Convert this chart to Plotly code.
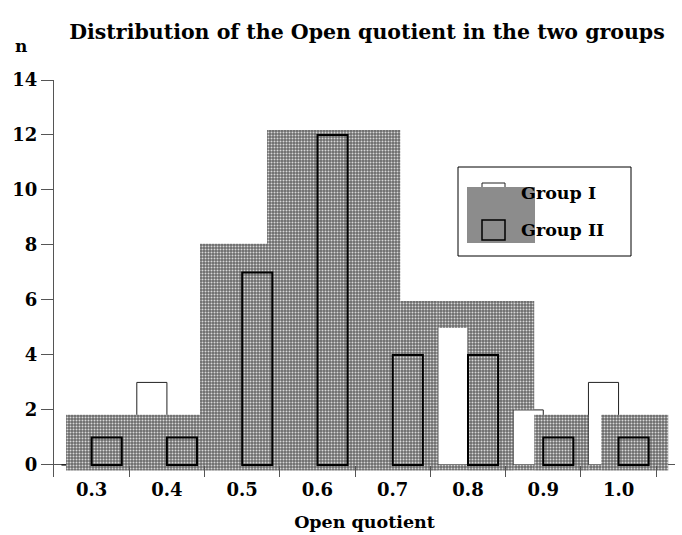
import plotly.graph_objects as go

# ---- data ----
categories = [0.3, 0.4, 0.5, 0.6, 0.7, 0.8, 0.9, 1.0]
tick_labels = ["0.3", "0.4", "0.5", "0.6", "0.7", "0.8", "0.9", "1.0"]
group1 = [0, 3, 6, 8, 6, 5, 2, 3]
group2 = [1, 1, 7, 12, 4, 4, 1, 1]
bin_edges = [0.35, 0.45, 0.55, 0.65, 0.75, 0.85, 0.95, 1.05]

# stippled grey backdrop (left edge, right edge, bottom, top)
shade_left = [0.266, 0.444, 0.533, 0.710, 0.760, 0.760, 0.800, 0.860, 0.860, 0.888, 0.960, 0.977]
shade_right = [0.444, 0.533, 0.710, 0.760, 0.800, 0.800, 0.860, 0.888, 0.888, 0.960, 0.977, 1.066]
shade_bottom = [-0.2, -0.2, -0.2, -0.2, -0.2, 4.98, -0.2, -0.2, 2.0, -0.2, -0.2, -0.2]
shade_top = [1.82, 8.04, 12.18, 5.96, 0.0, 5.96, 5.96, 0.0, 5.96, 1.82, 0.0, 1.82]

FONT = "DejaVu Serif"

fig = go.Figure()

# Group I (white bars, left half of each bin)
fig.add_trace(go.Bar(
    x=categories, y=group1, width=0.04, offset=-0.04,
    marker=dict(color="white", line=dict(color="#222", width=1)),
    name="Group I", showlegend=False,
))

# grey stippled backdrop
fig.add_trace(go.Bar(
    x=shade_left,
    y=[t - b for t, b in zip(shade_top, shade_bottom)],
    base=shade_bottom,
    width=[r - l for l, r in zip(shade_left, shade_right)],
    offset=0,
    marker=dict(
        color="#808080",
        line=dict(width=0),
        pattern=dict(shape=".", fgcolor="#d8d8d8", bgcolor="#6a6a6a",
                     size=3, solidity=0.35, fillmode="replace"),
    ),
    showlegend=False, hoverinfo="skip",
))

# Group II (outlined bars, right half of each bin)
fig.add_trace(go.Bar(
    x=categories, y=group2, width=0.04, offset=0.0,
    marker=dict(color="rgba(0,0,0,0)", line=dict(color="black", width=2)),
    name="Group II", showlegend=False,
))

# ---- custom legend ----
def px2paper_x(px):
    return (px - 54) / 621.0

def px2paper_y(py):
    return (477 - py) / 397.0

shapes = [
    dict(type="rect", xref="paper", yref="paper",
         x0=px2paper_x(458), x1=px2paper_x(631), y0=px2paper_y(256), y1=px2paper_y(167),
         line=dict(color="black", width=1), fillcolor="white", layer="above"),
    dict(type="rect", xref="paper", yref="paper",
         x0=px2paper_x(482), x1=px2paper_x(505), y0=px2paper_y(192), y1=px2paper_y(183),
         line=dict(color="#222", width=1), fillcolor="white", layer="above"),
    dict(type="rect", xref="paper", yref="paper",
         x0=px2paper_x(467), x1=px2paper_x(535), y0=px2paper_y(243), y1=px2paper_y(187),
         line=dict(width=0), fillcolor="#8c8c8c", layer="above"),
    dict(type="rect", xref="paper", yref="paper",
         x0=px2paper_x(482), x1=px2paper_x(505), y0=px2paper_y(240), y1=px2paper_y(220),
         line=dict(color="black", width=1.5), fillcolor="rgba(0,0,0,0)", layer="above"),
]

annotations = [
    dict(text="<b>Group I</b>", xref="paper", yref="paper", x=px2paper_x(519), y=px2paper_y(193),
         xanchor="left", yanchor="middle", showarrow=False,
         font=dict(family=FONT, size=17.5, color="black")),
    dict(text="<b>Group II</b>", xref="paper", yref="paper", x=px2paper_x(519), y=px2paper_y(230),
         xanchor="left", yanchor="middle", showarrow=False,
         font=dict(family=FONT, size=17.5, color="black")),
    dict(text="<b>n</b>", xref="paper", yref="paper", x=px2paper_x(21), y=px2paper_y(46),
         xanchor="center", yanchor="middle", showarrow=False,
         font=dict(family=FONT, size=17, color="black")),
]

fig.update_layout(
    width=682, height=535,
    margin=dict(l=54, r=7, t=80, b=58),
    plot_bgcolor="white", paper_bgcolor="white",
    barmode="overlay",
    title=dict(text="<b>Distribution of the Open quotient in the two groups</b>",
               x=367 / 682, xanchor="center", xref="container",
               y=1 - 32 / 535, yanchor="middle", yref="container",
               font=dict(family=FONT, size=20.5, color="black")),
    font=dict(family=FONT, size=16, color="black"),
    shapes=shapes, annotations=annotations,
    xaxis=dict(
        range=[0.25, 1.075], showgrid=False, zeroline=False, showline=False,
        tickmode="array", tickvals=categories,
        ticktext=["<b>%s</b>" % t for t in tick_labels],
        ticks="",
        minor=dict(tickmode="array", tickvals=bin_edges, ticks="inside",
                   ticklen=11, tickcolor="#555", tickwidth=1, showgrid=False),
        tickfont=dict(family=FONT, size=18, color="black"),
        title=dict(text="<b>Open quotient</b>", standoff=16,
                   font=dict(family=FONT, size=17.5, color="black")),
    ),
    yaxis=dict(
        range=[-0.44, 14], showgrid=False,
        zeroline=True, zerolinecolor="#555", zerolinewidth=1,
        showline=True, linecolor="#555", linewidth=1,
        tickmode="array", tickvals=[0, 2, 4, 6, 8, 10, 12, 14],
        ticktext=["<b>%d</b>" % v for v in [0, 2, 4, 6, 8, 10, 12, 14]],
        ticks="outside", ticklen=12, tickcolor="#555",
        tickfont=dict(family=FONT, size=18, color="black"),
    ),
)

fig.write_html("out.html", config={"displayModeBar": False},
               post_script="document.body.style.margin='0px';")
